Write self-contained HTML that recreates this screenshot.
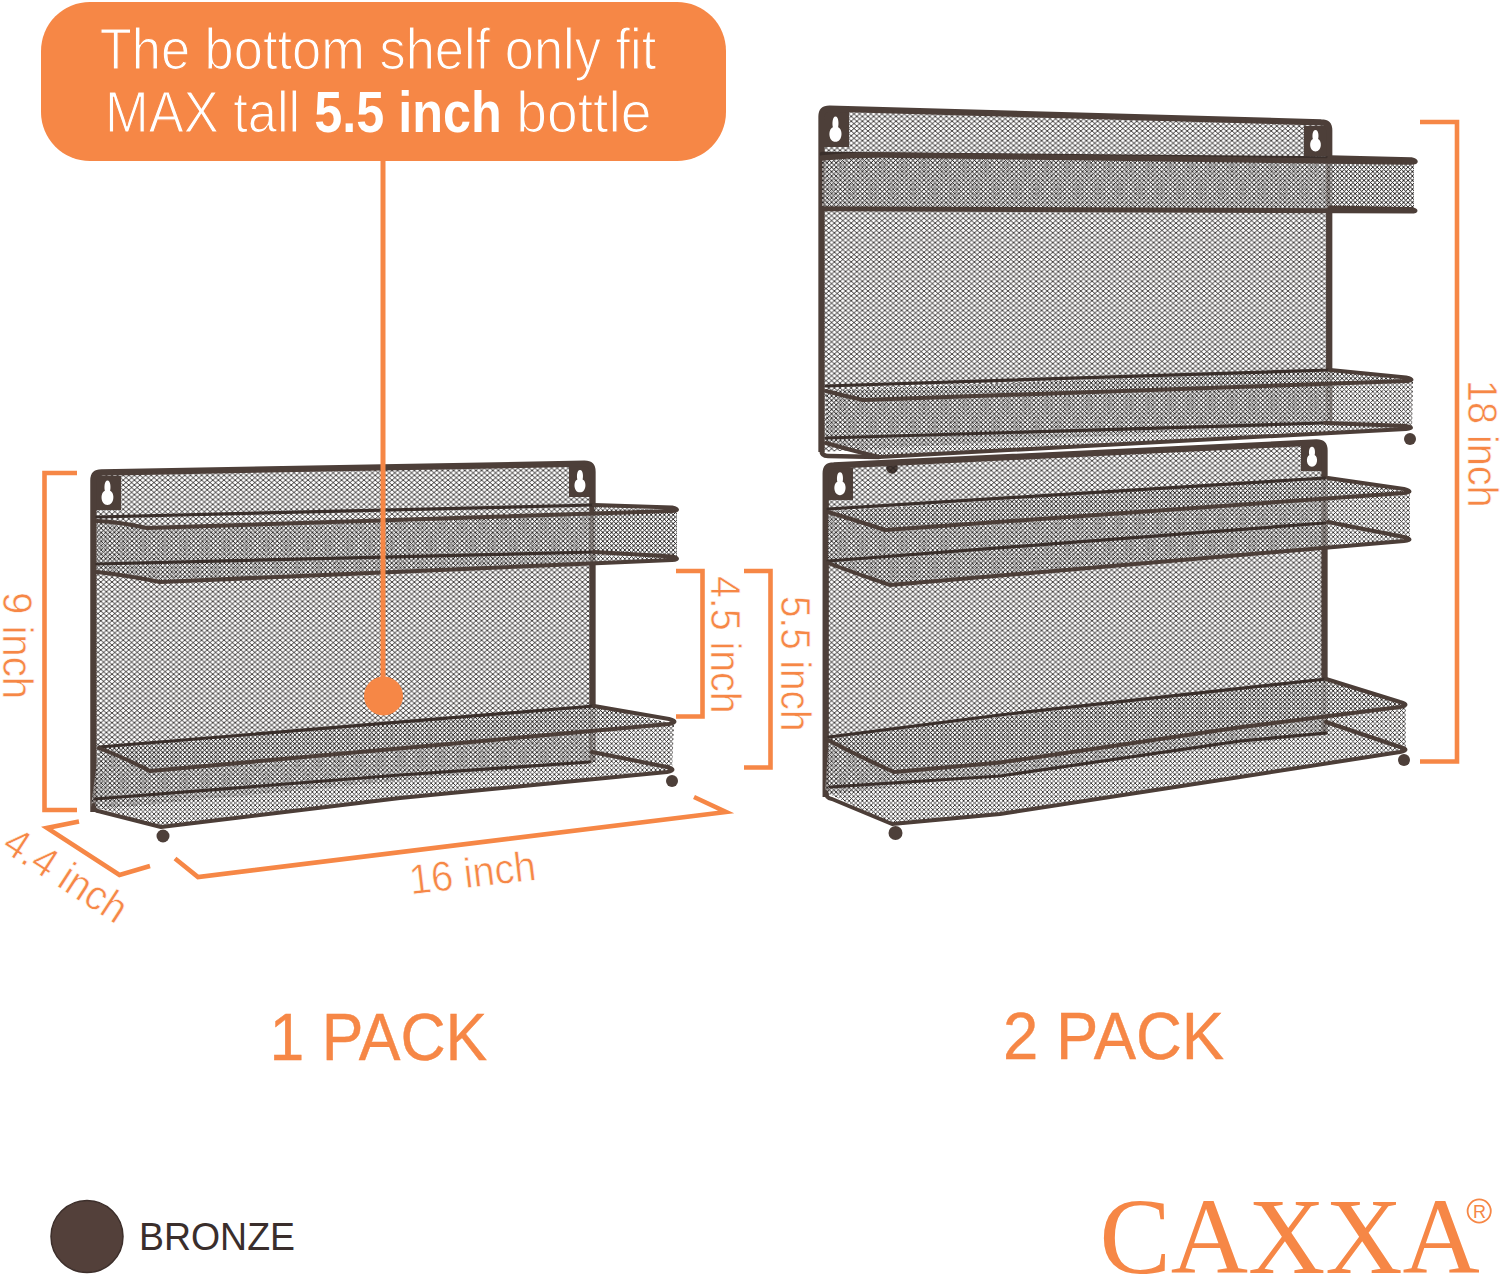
<!DOCTYPE html>
<html><head><meta charset="utf-8"><title>CAXXA Spice Rack</title>
<style>
html,body{margin:0;padding:0;background:#fff;}
body{width:1500px;height:1278px;position:relative;overflow:hidden;font-family:"Liberation Sans",sans-serif;}
svg{position:absolute;left:0;top:0;}
</style></head><body>
<svg width="1500" height="1278" viewBox="0 0 1500 1278">
<defs>
<pattern id="mesh" width="5.6" height="4.85" patternUnits="userSpaceOnUse">
<path d="M0,0 L5.6,4.85 M0,4.85 L5.6,0" stroke="#1c1817" stroke-width="0.85"/>
</pattern>
<pattern id="mesh2" width="4.4" height="4.4" patternUnits="userSpaceOnUse">
<path d="M0,0 L4.4,4.4 M0,4.4 L4.4,0" stroke="#1c1817" stroke-width="0.8"/>
</pattern>
</defs>
<rect width="1500" height="1278" fill="#fff"/>
<!-- bubble -->
<rect x="41" y="2" width="685" height="159" rx="49" ry="49" fill="#F68746"/>
<g font-family="Liberation Sans" fill="#fff" font-size="57" text-anchor="middle" stroke="#F68746" stroke-width="1.2">
<text transform="translate(378,69) scale(0.92,1)">The bottom shelf only fit</text>
<text text-anchor="start" transform="translate(105,132) scale(0.92,1)">MAX tall</text>
<text text-anchor="start" font-weight="bold" stroke="none" transform="translate(314.3,132) scale(0.883,1)">5.5 inch</text>
<text text-anchor="start" transform="translate(516.2,132) scale(0.97,1)">bottle</text>
</g>
<polygon points="93,472 593,463 593,762 93,810" fill="url(#mesh)" />
<rect x="94" y="476" width="27" height="34" fill="#4d3f39"/><path d="M107.5,480.42 C110.7,480.42 110.9,487.764 110.1,490.70160000000004 C115.1096,492.66 114.6096,504.90000000000003 107.5,504.90000000000003 C100.3904,504.90000000000003 99.8904,492.66 104.9,490.70160000000004 C104.1,487.764 104.3,480.42 107.5,480.42 Z" fill="#fff"/>
<rect x="569" y="466" width="22" height="31" fill="#4d3f39"/><path d="M580.0,470.03 C583.2,470.03 583.4,476.726 582.6,479.40439999999995 C587.0264,481.19 586.5264,492.34999999999997 580.0,492.34999999999997 C573.4736,492.34999999999997 572.9736,481.19 577.4,479.40439999999995 C576.6,476.726 576.8,470.03 580.0,470.03 Z" fill="#fff"/>
<path d="M93.4,812 L93.4,480.5 Q93.4,472.5 101.4,472.5 L584.5,463.7 Q592.5,463.7 592.5,471.7 L592.5,762" fill="none" stroke="#4d3f39" stroke-width="6.3"/>
<polygon points="97,521 147,528 677,511 677,560 160,582 97,572" fill="#fff" fill-opacity="0.5"/><polygon points="97,521 147,528 677,511 677,560 160,582 97,572" fill="url(#mesh2)"/>
<polygon points="594,505 677,511 677,560 594,552" fill="#fff" fill-opacity="0.5"/><polygon points="594,505 677,511 677,560 594,552" fill="url(#mesh2)"/>
<path d="M97,517 L594,505" fill="none" stroke="#3a2f2b" stroke-width="3.2" stroke-linejoin="round" stroke-linecap="round" />
<path d="M97,564 L594,552" fill="none" stroke="#3a2f2b" stroke-width="3.2" stroke-linejoin="round" stroke-linecap="round" />
<path d="M97,521 Q120,522 147,528 L672,511 Q682,510 672,507.5 L594,505" fill="none" stroke="#4c3e38" stroke-width="4.0" stroke-linejoin="round" stroke-linecap="round" />
<path d="M97,572 Q125,575 160,582 L672,560 Q682,559 672,556.5 L594,552" fill="none" stroke="#4c3e38" stroke-width="4.0" stroke-linejoin="round" stroke-linecap="round" />
<polygon points="99,748 150,771 674,724 594,706" fill="#fff" fill-opacity="0.5"/><polygon points="99,748 150,771 674,724 594,706" fill="url(#mesh2)"/>
<polygon points="91,806 161,827 400,798 672,771 594,752 594,706 99,748" fill="#fff" fill-opacity="0.5"/><polygon points="91,806 161,827 400,798 672,771 594,752 594,706 99,748" fill="url(#mesh2)"/>
<polygon points="594,706 674,724 672,772 592,752" fill="#fff" fill-opacity="0.5"/><polygon points="594,706 674,724 672,772 592,752" fill="url(#mesh2)"/>
<path d="M99,747 L594,706" fill="none" stroke="#3a2f2b" stroke-width="3.2" stroke-linejoin="round" stroke-linecap="round" />
<path d="M95,799 L400,775 L590,762" fill="none" stroke="#3a2f2b" stroke-width="3.2" stroke-linejoin="round" stroke-linecap="round" />
<path d="M99,748 Q125,758 150,771 L669,724 Q680,722 669,719 L594,706" fill="none" stroke="#4c3e38" stroke-width="4.0" stroke-linejoin="round" stroke-linecap="round" />
<path d="M93.4,805 Q93.4,811 100,811.5 L161,827 L400,798 L667,772 Q678,770 667,767 L592,752" fill="none" stroke="#4c3e38" stroke-width="4.0" stroke-linejoin="round" stroke-linecap="round" />
<circle cx="163" cy="836" r="6.5" fill="#4d3f39"/><circle cx="672" cy="781" r="6" fill="#4d3f39"/>
<polygon points="821,109 1329,122 1329,423 821,452" fill="url(#mesh)" />
<rect x="822" y="112" width="27" height="35" fill="#4d3f39"/><path d="M835.5,116.55 C838.7,116.55 838.9,124.11 838.1,127.134 C843.304,129.15 842.804,141.75 835.5,141.75 C828.196,141.75 827.696,129.15 832.9,127.134 C832.1,124.11 832.3,116.55 835.5,116.55 Z" fill="#fff"/>
<rect x="1304" y="126" width="23" height="30" fill="#4d3f39"/><path d="M1315.5,129.9 C1318.7,129.9 1318.9,136.38 1318.1,138.972 C1322.332,140.70000000000002 1321.832,151.5 1315.5,151.5 C1309.168,151.5 1308.668,140.70000000000002 1312.9,138.972 C1312.1,136.38 1312.3,129.9 1315.5,129.9 Z" fill="#fff"/>
<path d="M821.5,452 L821.5,116.6 Q821.5,108.6 829.5,108.6 L1321.2,122.3 Q1329.2,122.3 1329.2,130.3 L1329.2,423" fill="none" stroke="#4d3f39" stroke-width="6.3"/>
<polygon points="822,157 1414,162 1414,210 822,209" fill="#fff" fill-opacity="0.5"/><polygon points="822,157 1414,162 1414,210 822,209" fill="url(#mesh2)"/>
<polygon points="1330,160 1414,162 1414,210 1330,209" fill="#fff" fill-opacity="0.5"/><polygon points="1330,160 1414,162 1414,210 1330,209" fill="url(#mesh2)"/>
<path d="M822,154 L1330,158.5" fill="none" stroke="#3a2f2b" stroke-width="4.5" stroke-linejoin="round" stroke-linecap="round" />
<path d="M822,158 Q850,155 880,155 L1411,162 Q1419,162 1411,160 L1330,158" fill="none" stroke="#4c3e38" stroke-width="5.5" stroke-linejoin="round" stroke-linecap="round" />
<path d="M822,208.7 L1411,211 Q1419,211 1411,209.5 L1330,208" fill="none" stroke="#4c3e38" stroke-width="5" stroke-linejoin="round" stroke-linecap="round" />
<polygon points="826,391 863,400 1413,381 1330,370" fill="#fff" fill-opacity="0.5"/><polygon points="826,391 863,400 1413,381 1330,370" fill="url(#mesh2)"/>
<polygon points="826,443 879,457 1412,429 1330,423 1330,370 826,391" fill="#fff" fill-opacity="0.5"/><polygon points="826,443 879,457 1412,429 1330,423 1330,370 826,391" fill="url(#mesh2)"/>
<polygon points="1330,370 1413,381 1412,429 1325,423" fill="#fff" fill-opacity="0.5"/><polygon points="1330,370 1413,381 1412,429 1325,423" fill="url(#mesh2)"/>
<path d="M826,386 L1330,370" fill="none" stroke="#3a2f2b" stroke-width="3.2" stroke-linejoin="round" stroke-linecap="round" />
<path d="M826,438 L1325,423" fill="none" stroke="#3a2f2b" stroke-width="3.2" stroke-linejoin="round" stroke-linecap="round" />
<path d="M826,391 Q845,396 863,400 L1406,381 Q1417,380 1406,377.5 L1330,370" fill="none" stroke="#4c3e38" stroke-width="4.0" stroke-linejoin="round" stroke-linecap="round" />
<path d="M826,443 Q850,450 879,457 L1406,429 Q1416,428 1406,426 L1325,423" fill="none" stroke="#4c3e38" stroke-width="4.0" stroke-linejoin="round" stroke-linecap="round" />
<path d="M821.5,450 Q821.5,456 828,456 L879,457" fill="none" stroke="#4d3f39" stroke-width="4.5" stroke-linejoin="round" stroke-linecap="round" />
<circle cx="892" cy="468" r="5.8" fill="#4d3f39"/><circle cx="1410" cy="439" r="6" fill="#4d3f39"/>
<polygon points="826,466 1324,442 1324,735 826,795" fill="url(#mesh)" />
<rect x="827" y="468" width="26" height="32" fill="#4d3f39"/><path d="M840.0,472.16 C843.2,472.16 843.4,479.072 842.6,481.83680000000004 C847.2208,483.68 846.7208,495.20000000000005 840.0,495.20000000000005 C833.2792,495.20000000000005 832.7792,483.68 837.4,481.83680000000004 C836.6,479.072 836.8,472.16 840.0,472.16 Z" fill="#fff"/>
<rect x="1301" y="443" width="22" height="28" fill="#4d3f39"/><path d="M1312.0,446.64 C1315.2,446.64 1315.4,452.688 1314.6,455.1072 C1318.4432,456.71999999999997 1317.9432,466.8 1312.0,466.8 C1306.0568,466.8 1305.5568,456.71999999999997 1309.4,455.1072 C1308.6,452.688 1308.8,446.64 1312.0,446.64 Z" fill="#fff"/>
<path d="M825.7,797 L825.7,473.5 Q825.7,465.5 833.7,465.5 L1316.5,442.5 Q1324.5,442.5 1324.5,450.5 L1324.5,735" fill="none" stroke="#4d3f39" stroke-width="6.3"/>
<polygon points="828,512 885,530 1410,492 1328,478" fill="#fff" fill-opacity="0.5"/><polygon points="828,512 885,530 1410,492 1328,478" fill="url(#mesh2)"/>
<polygon points="828,563 890,585 1410,540 1328,522 1328,478 828,512" fill="#fff" fill-opacity="0.5"/><polygon points="828,563 890,585 1410,540 1328,522 1328,478 828,512" fill="url(#mesh2)"/>
<polygon points="1328,478 1410,492 1410,540 1328,522" fill="#fff" fill-opacity="0.5"/><polygon points="1328,478 1410,492 1410,540 1328,522" fill="url(#mesh2)"/>
<path d="M828,509 L1325,478" fill="none" stroke="#3a2f2b" stroke-width="3.2" stroke-linejoin="round" stroke-linecap="round" />
<path d="M828,561 L1325,523" fill="none" stroke="#3a2f2b" stroke-width="3.2" stroke-linejoin="round" stroke-linecap="round" />
<path d="M828,512 Q855,520 885,530 L1404,493 Q1415,492 1404,489 L1328,478" fill="none" stroke="#4c3e38" stroke-width="4.0" stroke-linejoin="round" stroke-linecap="round" />
<path d="M828,563 Q860,575 890,585 L1404,541 Q1415,540 1404,537 L1328,522" fill="none" stroke="#4c3e38" stroke-width="4.0" stroke-linejoin="round" stroke-linecap="round" />
<polygon points="826,739 894,772 1000,762.5 1240,727.3 1406,706 1326,679" fill="#fff" fill-opacity="0.5"/><polygon points="826,739 894,772 1000,762.5 1240,727.3 1406,706 1326,679" fill="url(#mesh2)"/>
<polygon points="825,792 892,824 1000,814 1240,777 1406,751 1326,722 1326,679 829,737" fill="#fff" fill-opacity="0.5"/><polygon points="825,792 892,824 1000,814 1240,777 1406,751 1326,722 1326,679 829,737" fill="url(#mesh2)"/>
<polygon points="1326,679 1406,706 1406,751 1326,722" fill="#fff" fill-opacity="0.5"/><polygon points="1326,679 1406,706 1406,751 1326,722" fill="url(#mesh2)"/>
<path d="M829,737 L1000,715 L1326,679" fill="none" stroke="#3a2f2b" stroke-width="3.2" stroke-linejoin="round" stroke-linecap="round" />
<path d="M830,787 L1000,776 L1240,741 L1326,733" fill="none" stroke="#3a2f2b" stroke-width="3.2" stroke-linejoin="round" stroke-linecap="round" />
<path d="M826,739 Q860,757 894,772 L1000,762.5 L1240,727.3 L1400,707 Q1411,705 1400,702 L1326,679" fill="none" stroke="#4c3e38" stroke-width="4.0" stroke-linejoin="round" stroke-linecap="round" />
<path d="M825.7,792 Q825.7,798 832,799 L892,824 L1000,814 L1240,777 L1400,752 Q1411,750 1400,747 L1326,722" fill="none" stroke="#4c3e38" stroke-width="4.0" stroke-linejoin="round" stroke-linecap="round" />
<circle cx="895.5" cy="833" r="7" fill="#4d3f39"/><circle cx="1404" cy="760" r="6" fill="#4d3f39"/>
<!-- pointer -->
<rect x="380.5" y="161" width="5" height="530" fill="#F68746"/>
<circle cx="383.5" cy="696" r="19.5" fill="#F68746"/>
<!-- dimension brackets -->
<g fill="none" stroke="#F68746" stroke-width="4.6" stroke-linejoin="miter" >
<polyline points="77,473 44.5,473 44.5,810 77,810"/>
<polyline points="676,571 702.5,571 702.5,716.5 676,716.5"/>
<polyline points="744,571 770.5,571 770.5,767.5 744,767.5"/>
<polyline points="1420,122 1457,122 1457,761.5 1420,761.5"/>
<polyline points="79,821.5 47,828 119.5,875 150,866"/>
<polyline points="175,858.5 198,877 726,812 694,797"/>
</g>
<g font-family="Liberation Sans" fill="#F68746" font-size="42" stroke="#fff" stroke-width="0.6">
<text transform="translate(2.5,592) rotate(90) scale(0.955,1)">9 inch</text>
<text transform="translate(711,576) rotate(90) scale(0.936,1)">4.5 inch</text>
<text transform="translate(781,596) rotate(90) scale(0.921,1)">5.5 inch</text>
<text transform="translate(1468,380) rotate(90) scale(0.942,1)">18 inch</text>
<text transform="translate(0.3,849.5) rotate(33) scale(0.94,1)">4.4 inch</text>
<text transform="translate(411,894.5) rotate(-6.7) scale(0.94,1)">16 inch</text>
</g>
<g font-family="Liberation Sans" fill="#F68746" font-size="66" stroke="#F68746" stroke-width="0.4">
<text transform="translate(269.6,1060) scale(0.947,1)">1 PACK</text>
<text transform="translate(1003.1,1059) scale(0.962,1)">2 PACK</text>
</g>
<circle cx="87" cy="1236.5" r="36" fill="#53403a" stroke="#3d2f2b" stroke-width="1.5"/>
<text transform="translate(139,1250) scale(0.96,1)" font-family="Liberation Sans" font-size="39" fill="#3a2e2c">BRONZE</text>
<text x="1099.4" y="1273" font-family="Liberation Serif" font-size="107" fill="#F68746">CAXXA</text>
<circle cx="1479.2" cy="1211" r="11.6" fill="none" stroke="#F68746" stroke-width="1.8"/>
<text x="1479.5" y="1217.5" font-family="Liberation Sans" font-size="18" fill="#F68746" text-anchor="middle">R</text>
</svg>
</body></html>
